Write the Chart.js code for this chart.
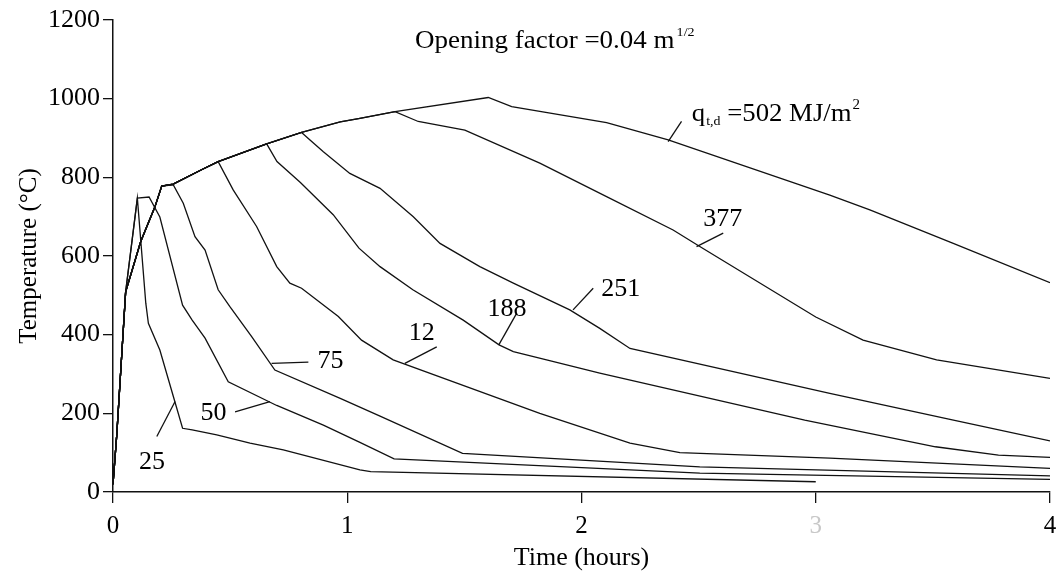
<!DOCTYPE html>
<html>
<head>
<meta charset="utf-8">
<script src="https://cdn.jsdelivr.net/npm/chart.js@4.4.0/dist/chart.umd.min.js"></script>
<style>
  html, body { margin: 0; padding: 0; background: #fff; }
  #wrap { width: 1057px; height: 572px; position: relative; }
</style>
</head>
<body>
<div id="wrap"><canvas id="fire"></canvas></div>
<script>
// time in hours, gas temperature in degC, one pair of arrays per fire load
const time25 = [0, 0.016, 0.054, 0.104, 0.14, 0.151, 0.2, 0.262, 0.297, 0.338, 0.443, 0.585, 0.727, 1.054, 1.1, 3.0];
const temp25 = [20, 145, 509, 747, 480, 429, 361, 234, 162, 158, 145, 124, 107, 56, 52, 26];

const time50 = [0, 0.016, 0.054, 0.104, 0.154, 0.2, 0.297, 0.338, 0.393, 0.492, 0.699, 0.898, 1.054, 1.2, 2.505, 4];
const temp50 = [20, 145, 509, 747, 750, 699, 475, 437, 391, 280, 220, 170, 126, 84, 48, 32];

const time75 = [0, 0.016, 0.054, 0.118, 0.179, 0.208, 0.257, 0.3, 0.35, 0.393, 0.449, 0.499, 0.592, 0.691, 0.97, 1.14, 1.492, 2.505, 4];
const temp75 = [20, 145, 509, 636, 725, 778, 781, 734, 649, 615, 514, 471, 395, 310, 238, 193, 98, 64, 41];

const time126 = [0, 0.016, 0.054, 0.118, 0.179, 0.208, 0.257, 0.38, 0.449, 0.513, 0.613, 0.699, 0.755, 0.805, 0.962, 1.061, 1.196, 1.822, 2.207, 2.42, 3.06, 4];
const temp126 = [20, 145, 509, 636, 725, 778, 783, 820, 840, 768, 675, 573, 531, 518, 446, 386, 336, 200, 124, 100, 86, 60];

const time188 = [0, 0.016, 0.054, 0.118, 0.179, 0.208, 0.257, 0.38, 0.449, 0.656, 0.70, 0.80, 0.94, 1.05, 1.14, 1.28, 1.495, 1.648, 1.709, 1.851, 2.078, 2.953, 3.511, 3.78, 4];
const temp188 = [20, 145, 509, 636, 725, 778, 783, 820, 840, 885, 840, 787, 705, 620, 573, 514, 437, 374, 357, 336, 302, 183, 115, 94, 88];

const time251 = [0, 0.016, 0.054, 0.118, 0.179, 0.208, 0.257, 0.38, 0.449, 0.656, 0.805, 0.841, 0.898, 1.011, 1.14, 1.282, 1.396, 1.566, 1.709, 1.95, 2.078, 2.207, 3.06, 3.568, 4];
const temp251 = [20, 145, 509, 636, 725, 778, 783, 820, 840, 885, 914, 895, 865, 810, 772, 700, 632, 573, 531, 463, 416, 365, 251, 185, 130];

const time377 = [0, 0.016, 0.054, 0.118, 0.179, 0.208, 0.257, 0.38, 0.449, 0.656, 0.805, 0.97, 1.054, 1.204, 1.303, 1.502, 1.822, 2.107, 2.391, 2.505, 3.0, 3.202, 3.516, 4];
const temp377 = [20, 145, 509, 636, 725, 778, 783, 820, 840, 885, 914, 941, 950, 967, 942, 920, 836, 751, 666, 624, 445, 386, 336, 289];

const time502 = [0, 0.016, 0.054, 0.118, 0.179, 0.208, 0.257, 0.38, 0.449, 0.656, 0.805, 0.97, 1.054, 1.204, 1.602, 1.702, 2.107, 2.37, 3.06, 3.231, 3.587, 4];
const temp502 = [20, 145, 509, 636, 725, 778, 783, 820, 840, 885, 914, 941, 950, 967, 1003, 980, 939, 895, 755, 717, 632, 532];

const xTicks = [0, 1, 2, 3, 4];
const yTicks = [0, 200, 400, 600, 800, 1000, 1200];

const curves = [
  { name: "25", time: time25, temp: temp25 },
  { name: "50", time: time50, temp: temp50 },
  { name: "75", time: time75, temp: temp75 },
  { name: "126", time: time126, temp: temp126 },
  { name: "188", time: time188, temp: temp188 },
  { name: "251", time: time251, temp: temp251 },
  { name: "377", time: time377, temp: temp377 },
  { name: "502", time: time502, temp: temp502 }
];

// curve labels with their little leader lines (data units)
const notes = [
  { text: "377", t: 2.603, v: 692, from: [2.605, 658], to: [2.491, 624] },
  { text: "251", t: 2.168, v: 514, from: [2.05, 518], to: [1.964, 463] },
  { text: "188", t: 1.682, v: 463, from: [1.723, 454], to: [1.647, 374] },
  { text: "12", t: 1.318, v: 404, from: [1.382, 369], to: [1.246, 327] },
  { text: "75", t: 0.928, v: 331, from: [0.834, 330], to: [0.677, 327] },
  { text: "50", t: 0.429, v: 201, from: [0.521, 204], to: [0.670, 230] },
  { text: "25", t: 0.166, v: 74, from: [0.187, 141], to: [0.265, 230] }
];

const SERIF = "'Liberation Serif', 'Times New Roman', serif";

// draw text slightly widened (the scanned original is a bit stretched), returns advance
function wideText(ctx, str, x, y, size, stretch) {
  ctx.font = size + "px " + SERIF;
  ctx.save();
  ctx.translate(x, y);
  ctx.scale(stretch, 1);
  ctx.fillText(str, 0, 0);
  ctx.restore();
  return ctx.measureText(str).width * stretch;
}

const notesPlugin = {
  id: "notes",
  afterDatasetsDraw(chart) {
    const { ctx } = chart;
    const xs = chart.scales.x, ys = chart.scales.y;
    const px = (t) => xs.getPixelForValue(t);
    const py = (v) => ys.getPixelForValue(v);
    ctx.save();
    ctx.fillStyle = "#000";
    ctx.strokeStyle = "#111";
    ctx.lineWidth = 1.3;

    ctx.textAlign = "center";
    ctx.textBaseline = "middle";
    notes.forEach((n) => {
      ctx.beginPath();
      ctx.moveTo(px(n.from[0]), py(n.from[1]));
      ctx.lineTo(px(n.to[0]), py(n.to[1]));
      ctx.stroke();
      wideText(ctx, n.text, px(n.t), py(n.v), 25, 1.04);
    });

    // opening factor heading
    ctx.textAlign = "left";
    ctx.textBaseline = "alphabetic";
    let x = px(1.289), y = py(1128);
    x += wideText(ctx, "Opening factor =0.04 m", x, y, 25, 1.08) + 2;
    wideText(ctx, "1/2", x, y - 12, 13, 1.08);

    // q_t,d label
    ctx.beginPath();
    ctx.moveTo(px(2.427), py(942));
    ctx.lineTo(px(2.37), py(891));
    ctx.stroke();
    x = px(2.471); y = py(942);
    x += wideText(ctx, "q", x, y, 25, 1.07) + 1;
    x += wideText(ctx, "t,d", x, y + 4, 13, 1.07);
    x += wideText(ctx, " =502 MJ/m", x, y, 25, 1.07) + 1;
    wideText(ctx, "2", x, y - 12, 14, 1.07);
    ctx.restore();
  }
};

new Chart(document.getElementById("fire"), {
  type: "line",
  data: {
    datasets: curves.map((c) => ({
      label: c.name,
      data: c.time.map((t, i) => ({ x: t, y: c.temp[i] })),
      borderColor: "#111",
      borderWidth: 1.3,
      pointRadius: 0,
      fill: false,
      tension: 0
    }))
  },
  options: {
    responsive: true,
    maintainAspectRatio: false,
    animation: false,
    layout: { padding: { left: 0, top: 20, right: 7, bottom: 0 } },
    plugins: { legend: { display: false }, tooltip: { enabled: false } },
    scales: {
      x: {
        type: "linear",
        min: 0,
        max: 4,
        afterBuildTicks: (s) => { s.ticks = xTicks.map((v) => ({ value: v })); },
        afterFit: (s) => { s.height = 80; s.paddingRight = 0; s.paddingLeft = 0; },
        ticks: {
          font: { family: SERIF, size: 25 },
          color: (c) => (c.tick && c.tick.value === 3 ? "#c8c8c8" : "#000"),
          padding: 8,
          maxRotation: 0,
          callback: (v) => String(v)
        },
        grid: { drawOnChartArea: false, tickLength: 11, color: "#111", lineWidth: 1.3 },
        border: { color: "#111", width: 1.5 },
        title: {
          display: true,
          text: "Time (hours)",
          color: "#000",
          font: { family: SERIF, size: 26, lineHeight: 1 },
          padding: { top: 0, bottom: 1 }
        }
      },
      y: {
        min: 0,
        max: 1200,
        afterBuildTicks: (s) => { s.ticks = yTicks.map((v) => ({ value: v })); },
        afterFit: (s) => { s.width = 113; s.paddingTop = 0; s.paddingBottom = 0; },
        ticks: {
          font: { family: SERIF, size: 26 },
          color: "#000",
          padding: 3,
          callback: (v) => String(v)
        },
        grid: { drawOnChartArea: false, tickLength: 10, color: "#111", lineWidth: 1.3 },
        border: { color: "#111", width: 1.5 },
        title: {
          display: true,
          text: "Temperature (°C)",
          color: "#000",
          font: { family: SERIF, size: 25, lineHeight: 1 },
          padding: { top: 17, bottom: 0 }
        }
      }
    }
  },
  plugins: [notesPlugin]
});
</script>
</body>
</html>
